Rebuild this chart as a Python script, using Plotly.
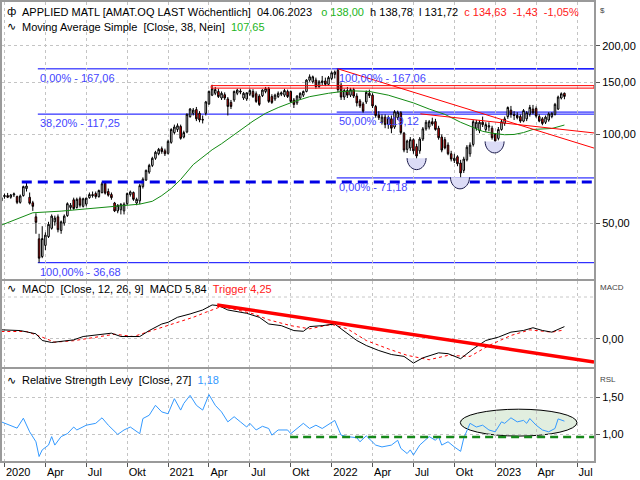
import numpy as np
import pandas as pd
import plotly.graph_objects as go
from plotly.subplots import make_subplots

START = pd.Timestamp("2019-12-29")


def bar_date(i):
    return START + pd.Timedelta(days=7.0 * i)


# ---------------- weekly candles (AMAT) ----------------
opens = [59.5, 61.5, 62.0, 61.2, 62.3, 61.5, 58.8, 62.0, 65.5, 61.2,
         58.6, 52.5, 44.2, 38.5, 42.0, 45.0, 48.0, 50.5, 52.5, 47.2,
         50.0, 53.0, 56.5, 60.0, 56.5, 60.5, 57.0, 58.0, 61.0, 62.5,
         63.0, 61.5, 63.5, 68.3, 64.0, 62.5, 58.5, 55.0, 55.5, 55.0,
         58.2, 62.5, 63.5, 58.5, 59.5, 66.5, 70.0, 74.5, 78.5, 83.0,
         86.0, 89.5, 88.0, 86.3, 94.0, 101.5, 104.0, 106.5, 98.0, 102.0,
         115.0, 118.0, 121.5, 118.0, 112.5, 118.0, 127.0, 136.0, 138.0, 140.0,
         133.0, 136.5, 132.0, 128.5, 131.0, 138.0, 140.5, 133.0, 132.0, 137.0,
         140.0, 137.5, 135.0, 135.5, 140.0, 143.0, 134.5, 132.0, 134.5, 137.0,
         136.0, 140.0, 140.0, 131.0, 128.0, 133.0, 136.0, 140.0, 153.0, 151.0,
         153.0, 145.5, 150.0, 152.0, 148.0, 155.0, 160.0, 165.0, 147.0, 134.0,
         141.0, 136.0, 142.0, 135.0, 130.0, 127.0, 129.0, 138.0, 136.0, 124.5,
         116.5, 110.0, 114.5, 108.0, 113.0, 106.0, 114.0, 118.5, 101.0, 89.0,
         90.0, 96.0, 91.0, 88.0, 96.5, 104.5, 106.0, 110.5, 110.6, 105.0,
         98.0, 96.0, 92.0, 86.0, 81.5, 84.0, 80.0, 75.5, 82.0, 86.0,
         92.5, 105.0, 103.0, 110.0, 104.0, 106.0, 105.0, 100.0, 97.0, 104.0,
         109.0, 115.0, 121.0, 117.0, 116.0, 115.0, 111.0, 113.0, 117.0, 122.0,
         122.5, 115.0, 113.0, 110.0, 112.0, 115.0, 117.0, 122.0, 133.0, 138.00]
highs = [61.5, 63.0, 63.3, 62.8, 63.5, 62.0, 62.5, 67.0, 69.3, 63.5,
         59.5, 54.0, 46.0, 48.8, 46.5, 50.5, 53.5, 53.0, 53.5, 51.0,
         53.5, 58.8, 58.5, 61.0, 61.0, 61.5, 61.0, 61.0, 63.5, 64.0,
         64.0, 65.0, 69.0, 69.5, 65.5, 63.5, 59.0, 58.0, 58.5, 58.8,
         63.5, 64.5, 64.0, 61.0, 68.0, 71.5, 76.0, 79.5, 84.0, 88.0,
         90.0, 91.0, 89.5, 96.0, 105.0, 108.0, 109.0, 108.0, 103.0, 118.0,
         123.0, 123.0, 124.0, 120.0, 116.0, 130.0, 141.0, 147.5, 145.0, 143.0,
         140.0, 139.0, 134.0, 131.0, 141.0, 143.0, 143.0, 139.5, 139.0, 143.0,
         142.5, 140.0, 137.0, 142.5, 145.0, 145.0, 137.0, 137.5, 140.0, 140.0,
         143.0, 142.0, 141.0, 133.0, 136.0, 139.0, 141.0, 154.0, 160.0, 158.5,
         156.0, 153.0, 158.0, 156.0, 158.0, 164.0, 165.0, 167.06, 150.0, 143.0,
         145.0, 144.0, 144.0, 138.0, 132.0, 129.0, 141.0, 142.0, 138.0, 126.0,
         120.0, 117.0, 117.0, 116.0, 116.0, 121.0, 120.5, 120.0, 102.0, 96.0,
         98.0, 97.0, 93.0, 98.0, 106.0, 112.0, 112.0, 114.0, 113.0, 107.0,
         100.0, 98.0, 94.0, 88.0, 86.0, 85.0, 82.0, 84.0, 92.0, 94.0,
         112.0, 112.0, 112.0, 115.0, 110.0, 110.0, 107.0, 101.0, 106.0, 112.0,
         115.0, 124.5, 125.0, 120.0, 119.0, 117.0, 122.0, 120.0, 126.0, 126.0,
         124.5, 117.0, 114.5, 116.0, 119.0, 119.0, 128.0, 135.5, 139.0, 138.78]
lows = [59.0, 60.5, 60.8, 60.5, 61.3, 58.0, 58.2, 61.5, 64.0, 57.8,
        55.0, 46.0, 36.68, 38.0, 40.5, 44.5, 47.5, 49.0, 46.5, 46.0,
        49.0, 52.5, 55.5, 55.5, 56.0, 56.5, 56.5, 57.0, 60.5, 61.0,
        60.5, 61.0, 63.0, 62.5, 61.5, 60.0, 54.5, 54.0, 53.5, 53.5,
        57.5, 61.5, 59.5, 57.5, 58.0, 65.5, 69.5, 73.5, 77.5, 82.0,
        85.0, 86.0, 84.5, 85.5, 93.0, 100.0, 102.0, 96.0, 97.0, 101.0,
        114.0, 116.0, 111.0, 110.0, 109.0, 116.0, 126.0, 135.0, 136.0, 133.0,
        131.0, 131.0, 116.0, 122.0, 129.0, 136.0, 137.0, 131.0, 130.0, 135.0,
        133.0, 128.0, 125.0, 134.0, 138.0, 128.0, 127.0, 130.0, 133.0, 135.0,
        134.0, 133.0, 128.0, 123.0, 126.0, 131.0, 134.0, 139.0, 151.0, 149.0,
        143.0, 144.0, 147.0, 146.0, 147.0, 153.0, 155.0, 139.0, 131.0, 131.0,
        133.0, 134.0, 133.0, 124.5, 123.0, 118.5, 127.0, 133.0, 123.0, 114.0,
        112.0, 108.0, 105.0, 104.5, 101.0, 104.5, 112.0, 100.0, 87.0, 86.5,
        88.0, 86.0, 82.0, 86.0, 95.0, 103.0, 104.0, 107.0, 103.0, 96.0,
        87.0, 89.0, 85.0, 81.0, 80.0, 78.0, 71.18, 74.0, 81.0, 84.0,
        91.0, 103.0, 101.0, 106.0, 102.0, 102.5, 96.0, 93.5, 95.5, 103.0,
        107.0, 113.0, 114.0, 112.0, 112.5, 109.5, 110.0, 111.0, 115.0, 117.0,
        114.0, 110.0, 107.5, 108.5, 110.5, 113.5, 116.0, 121.0, 131.5, 131.72]
closes = [61.0, 62.0, 61.2, 62.3, 62.8, 58.8, 61.8, 66.5, 66.8, 58.4,
          57.0, 50.3, 38.0, 44.3, 45.5, 49.5, 52.8, 52.0, 47.5, 50.5,
          52.8, 58.2, 57.5, 56.0, 60.2, 57.5, 60.5, 60.8, 62.5, 62.0,
          61.5, 64.5, 68.0, 63.2, 62.2, 61.0, 55.0, 57.5, 57.8, 58.0,
          63.0, 63.8, 60.2, 60.2, 67.0, 70.5, 75.5, 78.5, 83.0, 87.0,
          89.0, 87.5, 86.0, 94.7, 104.0, 106.0, 107.0, 97.0, 101.5, 117.0,
          122.0, 121.0, 113.0, 112.0, 112.0, 129.0, 140.0, 143.0, 142.0, 134.5,
          138.0, 133.0, 124.5, 124.5, 140.0, 141.5, 139.5, 138.0, 138.5, 141.0,
          134.5, 129.5, 126.5, 141.5, 143.0, 129.5, 128.5, 136.0, 138.0, 138.5,
          141.0, 134.5, 129.5, 126.5, 135.0, 138.0, 140.0, 153.0, 157.0, 157.0,
          145.5, 151.0, 152.0, 148.0, 156.0, 162.0, 163.0, 142.0, 134.0, 141.0,
          136.0, 142.0, 135.0, 128.0, 125.0, 120.0, 139.0, 135.5, 125.0, 116.0,
          114.0, 114.5, 108.0, 114.0, 105.0, 119.5, 119.0, 101.5, 88.5, 95.0,
          96.0, 88.0, 84.5, 96.5, 104.5, 110.0, 110.5, 108.5, 104.0, 97.5,
          88.5, 90.0, 86.0, 82.5, 83.0, 79.5, 74.0, 82.5, 90.5, 92.0,
          110.5, 110.0, 110.0, 108.0, 108.0, 107.0, 97.5, 95.0, 104.0, 110.5,
          113.0, 123.5, 117.0, 116.0, 114.0, 111.0, 120.5, 118.5, 123.5, 118.5,
          115.5, 111.0, 109.0, 114.5, 117.5, 118.0, 126.5, 134.0, 137.5, 134.63]
dates = [bar_date(i) for i in range(len(closes))]

# ---------------- indicators ----------------
ma_idx = [0, 10, 19, 25, 35, 44, 48, 51, 54, 57, 61, 64, 67, 70, 73, 76, 80,
          84, 88, 93, 98, 104, 108, 112, 117, 123, 131, 136, 141, 146, 150,
          153, 156, 160, 163, 166, 169, 175, 179]
ma_val = [49.2, 54.2, 54.9, 55.7, 57.0, 58.0, 59.3, 62.0, 65.5, 70.3, 79.0,
          84.0, 88.7, 93.0, 98.0, 104.0, 111.0, 118.0, 123.4, 129.3, 134.4,
          138.0, 139.8, 140.6, 140.0, 136.0, 128.0, 122.0, 117.0, 110.0,
          105.5, 102.5, 101.0, 99.8, 100.0, 101.5, 104.0, 104.8, 107.65]

macd_idx = [0, 6, 11, 13, 16, 19, 23, 26, 32, 35, 38, 44, 47, 51, 53, 56, 60,
            64, 67, 69, 72, 78, 82, 85, 89, 93, 96, 98, 102, 106, 108, 113,
            116, 120, 124, 128, 131, 134, 139, 142, 146, 150, 154, 158, 162,
            166, 169, 172, 175, 179]
macd_val = [4.3, 3.95, 2.4, -0.8, -1.75, -1.1, -0.5, 1.1, 2.4, 2.7, 1.1, 1.1,
            3.95, 7.1, 7.9, 10.3, 11.9, 13.8, 16.2, 15.9, 13.8, 12.2, 10.3,
            7.1, 6.3, 3.95, 3.6, 5.85, 6.3, 7.1, 4.8, -0.8, -3.2, -5.6, -7.5,
            -8.4, -11.6, -9.1, -6.7, -7.1, -9.5, -4.8, -0.8, 0.8, 3.2, 4.0,
            5.3, 4.0, 3.2, 5.84]
trig_idx = [0, 8, 13, 17, 23, 30, 36, 42, 48, 54, 61, 65, 70, 75, 80, 85, 92,
            98, 105, 110, 116, 123, 129, 136, 142, 149, 155, 162, 168, 175, 179]
trig_val = [3.5, 3.5, 0.8, -1.6, -0.9, 0.8, 2.2, 1.1, 3.95, 7.1, 10.3, 12.7,
            15.5, 13.8, 12.0, 9.1, 6.3, 4.8, 6.9, 4.8, -0.8, -4.8, -7.9,
            -10.0, -7.9, -8.4, -3.2, 1.6, 4.3, 3.2, 4.25]

rsl_idx = [0, 5, 7, 9, 11, 12, 13, 15, 16, 17, 19, 21, 23, 24, 27, 30, 32, 34,
           37, 39, 41, 44, 45, 47, 49, 51, 53, 55, 57, 58, 60, 61, 62, 64, 65,
           66, 68, 70, 72, 74, 76, 78, 79, 81, 83, 85, 86, 88, 91, 92, 96, 98,
           100, 102, 106, 108, 110, 113, 114, 116, 119, 121, 124, 126, 127,
           129, 130, 131, 133, 136, 138, 139, 140, 142, 144, 146, 147, 149,
           151, 153, 155, 157, 159, 160, 162, 164, 166, 167, 168, 170, 172,
           174, 176, 177, 179]
rsl_val = [1.17, 1.085, 1.22, 1.035, 0.90, 0.70, 0.79, 0.855, 0.97, 0.855,
           0.97, 1.01, 1.10, 1.06, 1.125, 1.15, 1.225, 1.125, 1.00, 1.06, 1.10,
           1.01, 1.215, 1.26, 1.395, 1.305, 1.28, 1.485, 1.33, 1.42, 1.53,
           1.46, 1.395, 1.33, 1.44, 1.54, 1.395, 1.305, 1.17, 1.24, 1.17, 1.10,
           1.15, 1.06, 1.11, 1.08, 0.99, 1.06, 1.06, 1.01, 1.15, 1.08, 1.125,
           1.08, 1.19, 0.99, 0.97, 0.955, 0.90, 0.98, 0.855, 0.83, 0.855, 0.92,
           0.81, 0.74, 0.79, 0.72, 0.855, 0.97, 0.92, 0.97, 0.855, 0.90, 0.83,
           0.77, 0.95, 1.15, 1.10, 1.125, 1.06, 1.035, 1.17, 1.15, 1.225, 1.17,
           1.19, 1.15, 1.215, 1.125, 1.06, 1.035, 1.08, 1.21, 1.18]

# ---------------- axes ----------------
tick_bars = [1, 14, 27, 40, 53, 66, 79, 92, 105, 118, 131, 144, 157, 170, 183]
tick_text = ["2020", "Apr", "Jul", "Okt", "2021", "Apr", "Jul", "Okt",
             "2022", "Apr", "Jul", "Okt", "2023", "Apr", "Jul"]
x_view = [0.21, 188.4]
price_ticks = [50, 100, 150, 200]
price_tick_text = ["50,00", "100,00", "150,00", "200,00"]
price_view = [32.34, 281.8]
macd_ticks = [0]
macd_tick_text = ["0,00"]
macd_view = [-13.67, 27.76]
rsl_ticks = [1.0, 1.5]
rsl_tick_text = ["1,00", "1,50"]
rsl_view = [0.639, 1.882]

# ---------------- drawings ----------------
fib1_start = 11.6
fib1_levels = [167.06, 117.25, 36.68]
fib1_labels = ["0,00% - 167,06", "38,20% - 117,25", "100,00% - 36,68"]
fib2_start = 106.6
fib2_levels = [167.06, 119.12, 71.18]
fib2_labels = ["100,00% - 167,06", "50,00% - 119,12", "0,00% - 71,18"]
support_start, support_level = 6.5, 69.0
band_start, band_levels = 66.7, [143.7, 146.5]
trend1 = [(107.0, 167.06), (188.4, 89.9)]
trend2 = [(133.2, 117.5), (188.4, 101.2)]
macd_trend = [(68.6, 16.2), (188.4, -11.1)]
rsl_support_start, rsl_support = 91.8, 0.965
rsl_ellipse = [(145.9, 0.977), (183.0, 1.342)]
bowls = [(132.0, 83.1), (145.8, 71.5), (156.8, 94.7)]

FONT = "Liberation Sans"
W, H = 640, 480
ML, MR, MT, MB = 0, 46, 0, 19
PW, PH = W - ML - MR, H - MT - MB

fig = make_subplots(rows=3, cols=1, shared_xaxes=True, vertical_spacing=0)

fig.add_trace(go.Candlestick(
    x=dates, open=opens, high=highs, low=lows, close=closes,
    increasing=dict(line=dict(color="black", width=1), fillcolor="white"),
    decreasing=dict(line=dict(color="black", width=1), fillcolor="#ff0000"),
    whiskerwidth=0, showlegend=False, hoverinfo="skip"), row=1, col=1)
fig.add_trace(go.Scatter(
    x=[bar_date(i) for i in ma_idx], y=ma_val, mode="lines",
    line=dict(color="#138a13", width=1), showlegend=False, hoverinfo="skip"),
    row=1, col=1)
fig.add_trace(go.Scatter(
    x=[bar_date(i) for i in trig_idx], y=trig_val, mode="lines",
    line=dict(color="#ff0000", width=1, dash="3px,3px"), showlegend=False,
    hoverinfo="skip"), row=2, col=1)
fig.add_trace(go.Scatter(
    x=[bar_date(i) for i in macd_idx], y=macd_val, mode="lines",
    line=dict(color="black", width=1), showlegend=False, hoverinfo="skip"),
    row=2, col=1)
fig.add_trace(go.Scatter(
    x=[bar_date(i) for i in rsl_idx], y=rsl_val, mode="lines",
    line=dict(color="#3399ff", width=1), showlegend=False, hoverinfo="skip"),
    row=3, col=1)

shapes = []
right = bar_date(x_view[1])
for lv in fib1_levels:
    shapes.append(dict(type="line", xref="x", yref="y", x0=bar_date(fib1_start),
                       x1=right, y0=lv, y1=lv, layer="below",
                       line=dict(color="#0000ff", width=1)))
for lv in fib2_levels:
    shapes.append(dict(type="line", xref="x", yref="y", x0=bar_date(fib2_start),
                       x1=right, y0=lv, y1=lv, layer="below",
                       line=dict(color="#0000ff", width=1)))
shapes.append(dict(type="line", xref="x", yref="y", x0=bar_date(support_start),
                   x1=right, y0=support_level, y1=support_level,
                   line=dict(color="#0000e6", width=3, dash="10px,6px")))
shapes.append(dict(type="rect", xref="x", yref="y", x0=bar_date(band_start),
                   x1=right, y0=band_levels[0], y1=band_levels[1],
                   line=dict(color="#ff0000", width=1)))
for (a, va), (b, vb) in [trend1, trend2]:
    shapes.append(dict(type="line", xref="x", yref="y", x0=bar_date(a),
                       x1=bar_date(b), y0=va, y1=vb,
                       line=dict(color="#ff0000", width=1)))
(a, va), (b, vb) = macd_trend
shapes.append(dict(type="line", xref="x2", yref="y2", x0=bar_date(a),
                   x1=bar_date(b), y0=va, y1=vb,
                   line=dict(color="#ff0000", width=3.5)))
shapes.append(dict(type="line", xref="paper", yref="y2", x0=0, x1=1, y0=20,
                   y1=20, layer="below",
                   line=dict(color="#c8c8c8", width=1, dash="dot")))
(a, va), (b, vb) = rsl_ellipse
shapes.append(dict(type="circle", xref="x3", yref="y3", x0=bar_date(a),
                   x1=bar_date(b), y0=va, y1=vb, layer="below",
                   fillcolor="#e1eedf", line=dict(color="black", width=1)))
shapes.append(dict(type="line", xref="x3", yref="y3",
                   x0=bar_date(rsl_support_start), x1=right,
                   y0=rsl_support, y1=rsl_support,
                   line=dict(color="#16891a", width=2.5, dash="8px,5px")))
r, d, k = 9.5, 11.5, 0.55
bowl_fill = (f"M{-r},0 C{-r},{-k*d} {-k*r},{-d} 0,{-d} "
             f"C{k*r},{-d} {r},{-k*d} {r},0 Z")
bowl_arc = (f"M{-r},0 C{-r},{-k*d} {-k*r},{-d} 0,{-d} "
            f"C{k*r},{-d} {r},{-k*d} {r},0")
for bi, bv in bowls:
    shapes.append(dict(type="path", xref="x", yref="y", xsizemode="pixel",
                       ysizemode="pixel", xanchor=bar_date(bi), yanchor=bv,
                       path=bowl_fill, fillcolor="#dcdcf6",
                       line=dict(width=0)))
    shapes.append(dict(type="path", xref="x", yref="y", xsizemode="pixel",
                       ysizemode="pixel", xanchor=bar_date(bi), yanchor=bv,
                       path=bowl_arc, line=dict(color="#1a1a4a", width=1)))


def px(x):
    return (x - ML) / PW


def py(y):
    return (H - MB - y) / PH


ann = []
fib_font = dict(family=FONT, size=11, color="#4444ff")
for lv, lab in zip(fib1_levels, fib1_labels):
    ann.append(dict(x=bar_date(fib1_start), y=np.log10(lv), xref="x", yref="y",
                    text=lab, showarrow=False, xanchor="left", yanchor="top",
                    yshift=-1, font=fib_font))
for lv, lab in zip(fib2_levels, fib2_labels):
    ann.append(dict(x=bar_date(fib2_start), y=np.log10(lv), xref="x", yref="y",
                    text=lab, showarrow=False, xanchor="left", yanchor="top",
                    yshift=-1, font=fib_font))

GREEN, RED, BLUE = "#22b522", "#ff2020", "#3399ff"
sp = "&nbsp;&nbsp;"
title_lines = [
    (10, "ф", "APPLIED MATL [AMAT.OQ LAST Wöchentlich]" + sp + "04.06.2023" + sp
     + "&nbsp;" + f"<span style='color:{GREEN}'>o 138,00</span>" + sp
     + "h 138,78" + sp + "l 131,72" + sp
     + f"<span style='color:{RED}'>c 134,63" + sp + "-1,43" + sp + "-1,05%</span>"),
    (25, "∿", "Moving Average Simple" + sp + "[Close, 38, Nein]" + sp
     + f"<span style='color:{GREEN}'>107,65</span>"),
    (288, "∿", "MACD" + sp + "[Close, 12, 26, 9]" + sp + "MACD 5,84" + sp
     + f"<span style='color:{RED}'>Trigger 4,25</span>"),
    (380, "∿", "Relative Strength Levy" + sp + "[Close, 27]" + sp
     + f"<span style='color:{BLUE}'>1,18</span>"),
]
for yy, icon, txt in title_lines:
    ann.append(dict(x=px(3), y=py(yy), xref="paper", yref="paper", text=icon,
                    showarrow=False, xanchor="left", yanchor="middle",
                    font=dict(family="DejaVu Sans", size=11, color="black")))
    ann.append(dict(x=px(18), y=py(yy), xref="paper", yref="paper", text=txt,
                    showarrow=False, xanchor="left", yanchor="middle",
                    font=dict(family=FONT, size=11, color="black")))
for yy, lab in [(9, "$"), (287, "MACD"), (379, "RSL")]:
    ann.append(dict(x=px(598), y=py(yy), xref="paper", yref="paper", text=lab,
                    showarrow=False, xanchor="left", yanchor="middle",
                    font=dict(family=FONT, size=8, color="#444444")))

grid = dict(showgrid=True, gridcolor="#c4c4c4", griddash="dot", gridwidth=1)
frame = dict(showline=True, linecolor="#9a9a9a", linewidth=2, mirror=True)
fig.update_xaxes(type="date", range=[bar_date(x_view[0]), bar_date(x_view[1])],
                 tickvals=[bar_date(i) for i in tick_bars], ticktext=tick_text,
                 rangeslider_visible=False, zeroline=False, **grid, **frame)
fig.update_xaxes(showticklabels=False, ticks="", row=1, col=1)
fig.update_xaxes(showticklabels=False, ticks="", row=2, col=1)
fig.update_xaxes(ticks="outside", ticklen=4, tickcolor="#555555",
                 ticklabelposition="outside right",
                 tickfont=dict(family=FONT, size=11, color="black"),
                 row=3, col=1)
yax = dict(side="right", ticks="outside", ticklen=4, tickcolor="#555555",
           tickfont=dict(family=FONT, size=11, color="black"), zeroline=False,
           **grid, **frame)
fig.update_yaxes(type="log", range=[np.log10(price_view[0]), np.log10(price_view[1])],
                 tickvals=price_ticks, ticktext=price_tick_text,
                 domain=[(H - MB - 278) / PH, 1.0], row=1, col=1, **yax)
fig.update_yaxes(range=macd_view, tickvals=macd_ticks, ticktext=macd_tick_text,
                 domain=[(H - MB - 367) / PH, (H - MB - 280) / PH], row=2, col=1,
                 **yax)
fig.update_yaxes(range=rsl_view, tickvals=rsl_ticks, ticktext=rsl_tick_text,
                 domain=[0.0, (H - MB - 369) / PH], row=3, col=1, **yax)

fig.update_layout(width=W, height=H, margin=dict(l=ML, r=MR, t=MT, b=MB),
                  paper_bgcolor="white", plot_bgcolor="white",
                  shapes=shapes, annotations=ann, showlegend=False,
                  separators=",.", font=dict(family=FONT, size=11))
fig.write_html("out.html",
               config={"displayModeBar": False},
               post_script="document.body.style.margin='0px';"
                           "document.body.style.overflow='hidden';"
                           "document.documentElement.style.overflow='hidden';")
